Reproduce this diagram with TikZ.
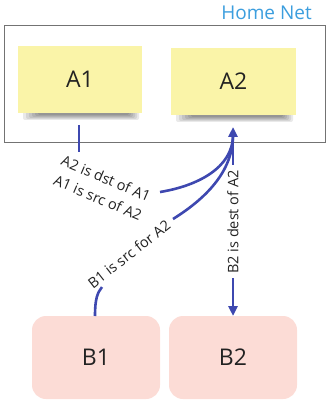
\documentclass[tikz,border=0pt]{standalone}
\usepackage{fontspec}
\setmainfont{Open Sans}
\usetikzlibrary{arrows.meta}
\definecolor{sticky}{RGB}{250,244,168}
\definecolor{peer}{RGB}{252,220,214}
\definecolor{flow}{RGB}{62,72,176}
\definecolor{netblue}{RGB}{60,158,222}
\definecolor{ink}{RGB}{34,34,34}
\tikzset{
  stickynote/.style={fill=sticky, draw=none, inner sep=0pt, minimum width=124pt, minimum height=67pt,
    font=\fontsize{23}{26}\selectfont, text=ink},
  peerbox/.style={fill=peer, draw=none, rounded corners=14pt, inner sep=0pt, minimum width=128pt,
    minimum height=83pt, font=\fontsize{23}{26}\selectfont, text=ink},
  edgelabel/.style={inner sep=0pt, font=\fontsize{14.5}{21}\selectfont, text=ink, align=center},
  link/.style={draw=flow, line width=2.6pt},
  tip/.style={-{Triangle[width=9pt,length=10pt]}},
}
% soft shadow under a sticky note: #1 left, #2 right, #3 bottom edge
\newcommand{\noteshadow}[3]{%
  \foreach \k in {0,...,5}{
    \fill[black, opacity=0.085, rounded corners=2pt]
      (#1+5+\k*3, #3-2) rectangle (#2-3-\k*2, #3+7-\k);
  }}
\begin{document}
\begin{tikzpicture}[x=1pt, y=-1pt]
  \useasboundingbox (0,0) rectangle (328,403);

  % home network frame and its title
  \draw[draw=black!55, line width=0.8pt] (4,25) rectangle (325,142);
  \node[font=\fontsize{19}{22}\selectfont, text=netblue, inner sep=0pt] (title) at (266.5,13) {Home Net};

  % hosts inside the home network
  \noteshadow{18}{142}{113}
  \noteshadow{171}{296}{115}
  \node[stickynote] (A1) at (80,79.5) {A1};
  \node[stickynote, minimum width=125pt] (A2) at (233.5,81.5) {A2};

  % outside hosts
  \node[peerbox] (B1) at (96,357.5) {B1};
  \node[peerbox] (B2) at (233,357.5) {B2};

  % labels on the connectors
  \node[edgelabel, rotate=-23] (lab1) at (102,188) {A2 is dst of A1\\A1 is src of A2};
  \node[edgelabel, rotate=38] (lab2) at (129,254) {B1 is src for A2};
  \node[edgelabel, rotate=90] (lab3) at (233,222) {B2 is dest of A2};

  % connector end points
  \coordinate (a1out) at (79,125);
  \coordinate (lab1in) at (79,152);
  \coordinate (lab1out) at (160,192);
  \coordinate (a2tip) at (233,127);
  \coordinate (a2base) at (233,135);
  \coordinate (b1out) at (95,316);
  \coordinate (lab2in) at (102,287);
  \coordinate (lab2out) at (173,219);
  \coordinate (lab3top) at (233,165);
  \coordinate (lab3bot) at (233,278);
  \coordinate (b2tip) at (233,316);

  % A1 -> A2
  \draw[link] (a1out) -- (lab1in);
  \draw[link] (lab1out) .. controls (197,186) and (233,168) .. (a2base);

  % B1 -> A2
  \draw[link] (b1out) .. controls (95,300) and (97,293) .. (lab2in);
  \draw[link] (lab2out) .. controls (205,199) and (233,172) .. (a2base);

  % A2 <-> B2
  \draw[link, tip] (lab3top) -- (a2tip);
  \draw[link, tip] (lab3bot) -- (b2tip);
\end{tikzpicture}
\end{document}
